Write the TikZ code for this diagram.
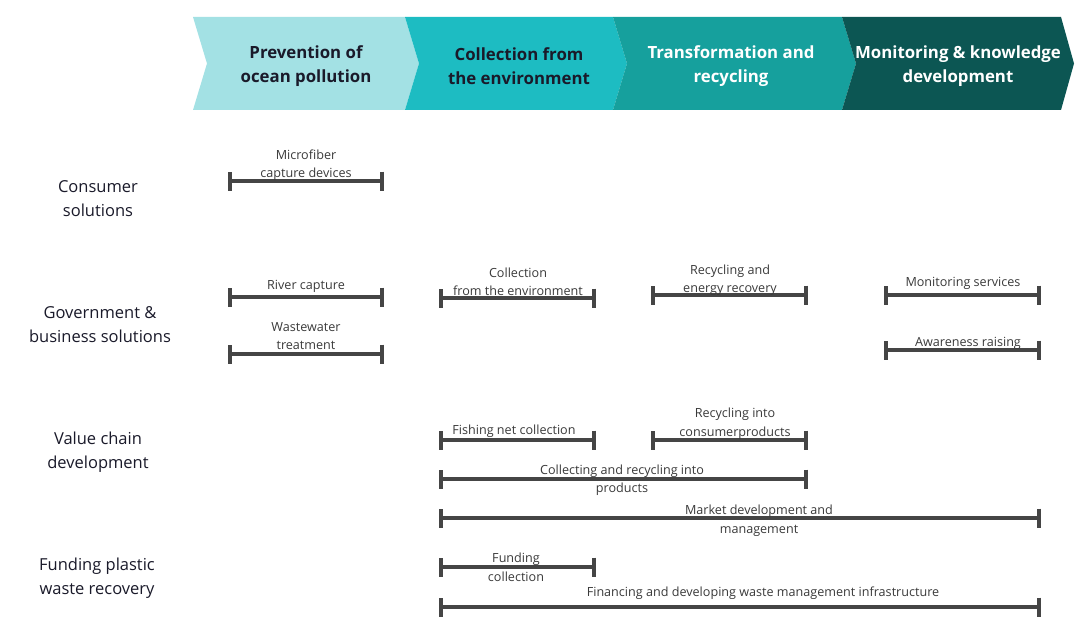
\documentclass[tikz,border=0pt]{standalone}
\usepackage{fontspec}
\setmainfont{Open Sans}
\usetikzlibrary{arrows.meta}
\definecolor{stageA}{HTML}{A3E1E4}
\definecolor{stageB}{HTML}{1DBCC2}
\definecolor{stageC}{HTML}{16A09D}
\definecolor{stageD}{HTML}{0C5653}
\definecolor{barcol}{HTML}{454545}
\definecolor{txtcol}{HTML}{3A3A3A}
\definecolor{headdark}{HTML}{1A1A2A}
\tikzset{
  stagehead/.style={font=\fontsize{16.8}{24}\selectfont\bfseries, align=center, inner sep=0pt},
  rowlabel/.style={font=\fontsize{16.5}{24}\selectfont, text=headdark, align=center, inner sep=0pt},
  itemtext/.style={font=\fontsize{12.6}{18.5}\selectfont, text=txtcol, align=center, inner sep=0pt},
  span/.style={draw=barcol, line width=3.2pt, {Bar[width=19pt,line width=3.2pt]}-{Bar[width=19pt,line width=3.2pt]}, shorten <=-1.6pt, shorten >=-1.6pt}
}
\begin{document}
\begin{tikzpicture}[x=1pt,y=-1pt]
\useasboundingbox (0,0) rectangle (1079,623);
\fill[white] (0,0) rectangle (1079,623);

% stage chevrons
\fill[stageA] (193,17) -- (405,17) -- (419,63.5) -- (405,110) -- (193,110) -- (207,63.5) -- cycle;
\fill[stageB] (405,17) -- (613,17) -- (627,63.5) -- (613,110) -- (405,110) -- (419,63.5) -- cycle;
\fill[stageC] (613,17) -- (842,17) -- (856,63.5) -- (842,110) -- (613,110) -- (627,63.5) -- cycle;
\fill[stageD] (842,17) -- (1061,17) -- (1074,63.5) -- (1061,110) -- (842,110) -- (856,63.5) -- cycle;

\node[stagehead, text=headdark] (h1) at (306,66) {Prevention of\\ocean pollution};
\node[stagehead, text=headdark] (h2) at (519,66) {Collection from\\the environment};
\node[stagehead, text=white] (h3) at (731,66) {Transformation and\\recycling};
\node[stagehead, text=white] (h4) at (958,66) {Monitoring \& knowledge\\development};

% row labels
\node[rowlabel] (r1) at (98,199) {Consumer\\solutions};
\node[rowlabel] (r2) at (100,325) {Government \&\\business solutions};
\node[rowlabel] (r3) at (98,452) {Value chain\\development};
\node[rowlabel] (r4) at (97,578) {Funding plastic\\waste recovery};

% span end points
\coordinate (a1) at (230,181);  \coordinate (b1) at (382,181);
\coordinate (a2) at (230,297);  \coordinate (b2) at (382,297);
\coordinate (a3) at (230,354);  \coordinate (b3) at (382,354);
\coordinate (a4) at (441,298);  \coordinate (b4) at (594,298);
\coordinate (a5) at (653,295);  \coordinate (b5) at (806,295);
\coordinate (a6) at (886,295);  \coordinate (b6) at (1039,295);
\coordinate (a7) at (886,350);  \coordinate (b7) at (1039,350);
\coordinate (a8) at (441,440);  \coordinate (b8) at (594,440);
\coordinate (a9) at (653,440);  \coordinate (b9) at (806,440);
\coordinate (a10) at (441,479); \coordinate (b10) at (806,479);
\coordinate (a11) at (441,518); \coordinate (b11) at (1039,518);
\coordinate (a12) at (441,567); \coordinate (b12) at (594,567);
\coordinate (a13) at (441,607); \coordinate (b13) at (1039,607);

\foreach \i in {1,...,13} { \draw[span] (a\i) -- (b\i); }

% span labels
\node[itemtext] (t1) at (306,165) {Microfiber\\capture devices};
\node[itemtext] (t2) at (306,286) {River capture};
\node[itemtext] (t3) at (306,336) {Wastewater\\treatment};
\node[itemtext] (t4) at (518,282) {Collection\\from the environment};
\node[itemtext] (t5) at (730,280) {Recycling and\\energy recovery};
\node[itemtext] (t6) at (963,283) {Monitoring services};
\node[itemtext] (t7) at (968,343) {Awareness raising};
\node[itemtext] (t8) at (514,431) {Fishing net collection};
\node[itemtext] (t9) at (735,423.5) {Recycling into\\consumerproducts};
\node[itemtext] (t10) at (622,480) {Collecting and recycling into\\products};
\node[itemtext] (t11) at (759,520.5) {Market development and\\management};
\node[itemtext] (t12) at (516,567.5) {Funding\\collection};
\node[itemtext] (t13) at (763,593) {Financing and developing waste management infrastructure};
\end{tikzpicture}
\end{document}
